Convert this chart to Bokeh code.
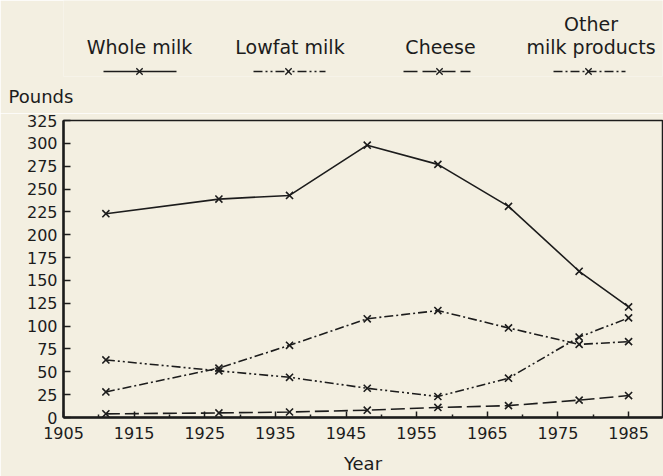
from bokeh.plotting import figure
from bokeh.models import FixedTicker, Range1d
from bokeh.layouts import column
from bokeh.embed import file_html
from bokeh.resources import INLINE
from bokeh.core.properties import value

# ---- data ----
years = [1911, 1927, 1937, 1948, 1958, 1968, 1978, 1985]
whole_milk = [223, 239, 243, 298, 277, 231, 160, 121]
lowfat_milk = [63, 51, 44, 32, 23, 43, 88, 109]
cheese = [4, 5, 6, 8, 11, 13, 19, 24]
other_products = [28, 54, 79, 108, 117, 98, 80, 83]

series_names = ["Whole milk", "Lowfat milk", "Cheese", "Other\nmilk products"]
y_ticks = list(range(0, 326, 25))
x_ticks = list(range(1905, 1986, 10))
x_minor_ticks = list(range(1910, 1990, 10))

# ---- styling ----
BG = "#f3efe1"
INK = "#1c1c1c"
FONT = "DejaVu Sans"
dashes = ["solid", "9 3 2 3 2 3", "14 5", "9 3 2 3"]

LEFT, FRAME_W, RIGHT = 63, 599, 1
TOP_H = 76

# ================= legend strip (page-pixel coordinates) =================
lg = figure(frame_width=FRAME_W, frame_height=TOP_H,
            x_range=Range1d(LEFT, LEFT + FRAME_W), y_range=Range1d(TOP_H, 0),
            x_axis_type=None, y_axis_type=None,
            output_backend="svg", toolbar_location=None,
            title="Pounds", title_location="below",
            min_border_left=LEFT, min_border_right=RIGHT, min_border_top=0, min_border_bottom=0,
            background_fill_color=BG, border_fill_color=BG, outline_line_color=None)
lg.grid.visible = False
lg.title.align = "left"
lg.title.offset = -55
lg.title.standoff = 14
lg.title.text_font = FONT
lg.title.text_font_size = "18px"
lg.title.text_font_style = "normal"
lg.title.text_color = INK

legend_text_x = [139, 289.5, 440, 590.5]
legend_mark_x = [139, 288, 439, 588]
legend_line_x0 = [103, 253, 403, 553]
legend_line_x1 = [176, 325, 470, 625]
legend_line_y = 71
legend_text_y = 46
legend_text_y_upper = 23

for name, tx, mx, x0, x1, dash in zip(series_names, legend_text_x, legend_mark_x,
                                      legend_line_x0, legend_line_x1, dashes):
    lg.line([x0, x1], [legend_line_y, legend_line_y], line_color=INK,
            line_width=1.4, line_dash=dash)
    lg.scatter([mx], [legend_line_y], marker="x", size=9, line_color=INK, line_width=1.4)
    parts = name.split("\n")
    ys = [legend_text_y] if len(parts) == 1 else [legend_text_y_upper, legend_text_y]
    lg.text([tx] * len(parts), ys, text=parts, text_align="center",
            text_baseline="middle", text_font=value(FONT),
            text_font_size="19px", text_color=INK)

# ================= main chart =================
p = figure(frame_width=FRAME_W, frame_height=297,
           x_range=Range1d(1905, 1989.8), y_range=Range1d(0, 325),
           output_backend="svg", toolbar_location=None,
           min_border_left=LEFT, min_border_right=RIGHT, min_border_top=7,
           min_border_bottom=59,
           background_fill_color=BG, border_fill_color=BG,
           outline_line_color=INK, outline_line_width=1.5)
p.grid.visible = False

xa = p.xaxis[0]
xa.ticker = FixedTicker(ticks=x_ticks, minor_ticks=x_minor_ticks)
xa.axis_line_width = 2.5
xa.axis_line_color = INK
xa.major_tick_in = 6
xa.major_tick_out = 0
xa.minor_tick_in = 3
xa.minor_tick_out = 0
xa.major_tick_line_color = INK
xa.minor_tick_line_color = INK
xa.major_tick_line_width = 1.5
xa.minor_tick_line_width = 1.5
xa.major_label_standoff = 9
xa.major_label_text_font = FONT
xa.major_label_text_font_size = "16px"
xa.major_label_text_color = INK
xa.axis_label = "Year"
xa.axis_label_standoff = 11
xa.axis_label_text_font = FONT
xa.axis_label_text_font_size = "18px"
xa.axis_label_text_font_style = "normal"
xa.axis_label_text_color = INK

ya = p.yaxis[0]
ya.ticker = FixedTicker(ticks=y_ticks, minor_ticks=[])
ya.axis_line_width = 2.5
ya.axis_line_color = INK
ya.major_tick_in = 7
ya.major_tick_out = 0
ya.major_tick_line_width = 1.5
ya.major_tick_line_color = INK
ya.minor_tick_line_color = None
ya.major_label_standoff = 6
ya.major_label_text_font = FONT
ya.major_label_text_font_size = "16px"
ya.major_label_text_color = INK

all_series = [whole_milk, lowfat_milk, cheese, other_products]
for vals, dash in zip(all_series, dashes):
    p.line(years, vals, line_color=INK, line_width=1.6, line_dash=dash)
    p.scatter(years, vals, marker="x", size=10, line_color=INK, line_width=1.6)

layout = column(lg, p, spacing=0)
html = file_html(layout, INLINE)
open("out.html", "w").write(html)
